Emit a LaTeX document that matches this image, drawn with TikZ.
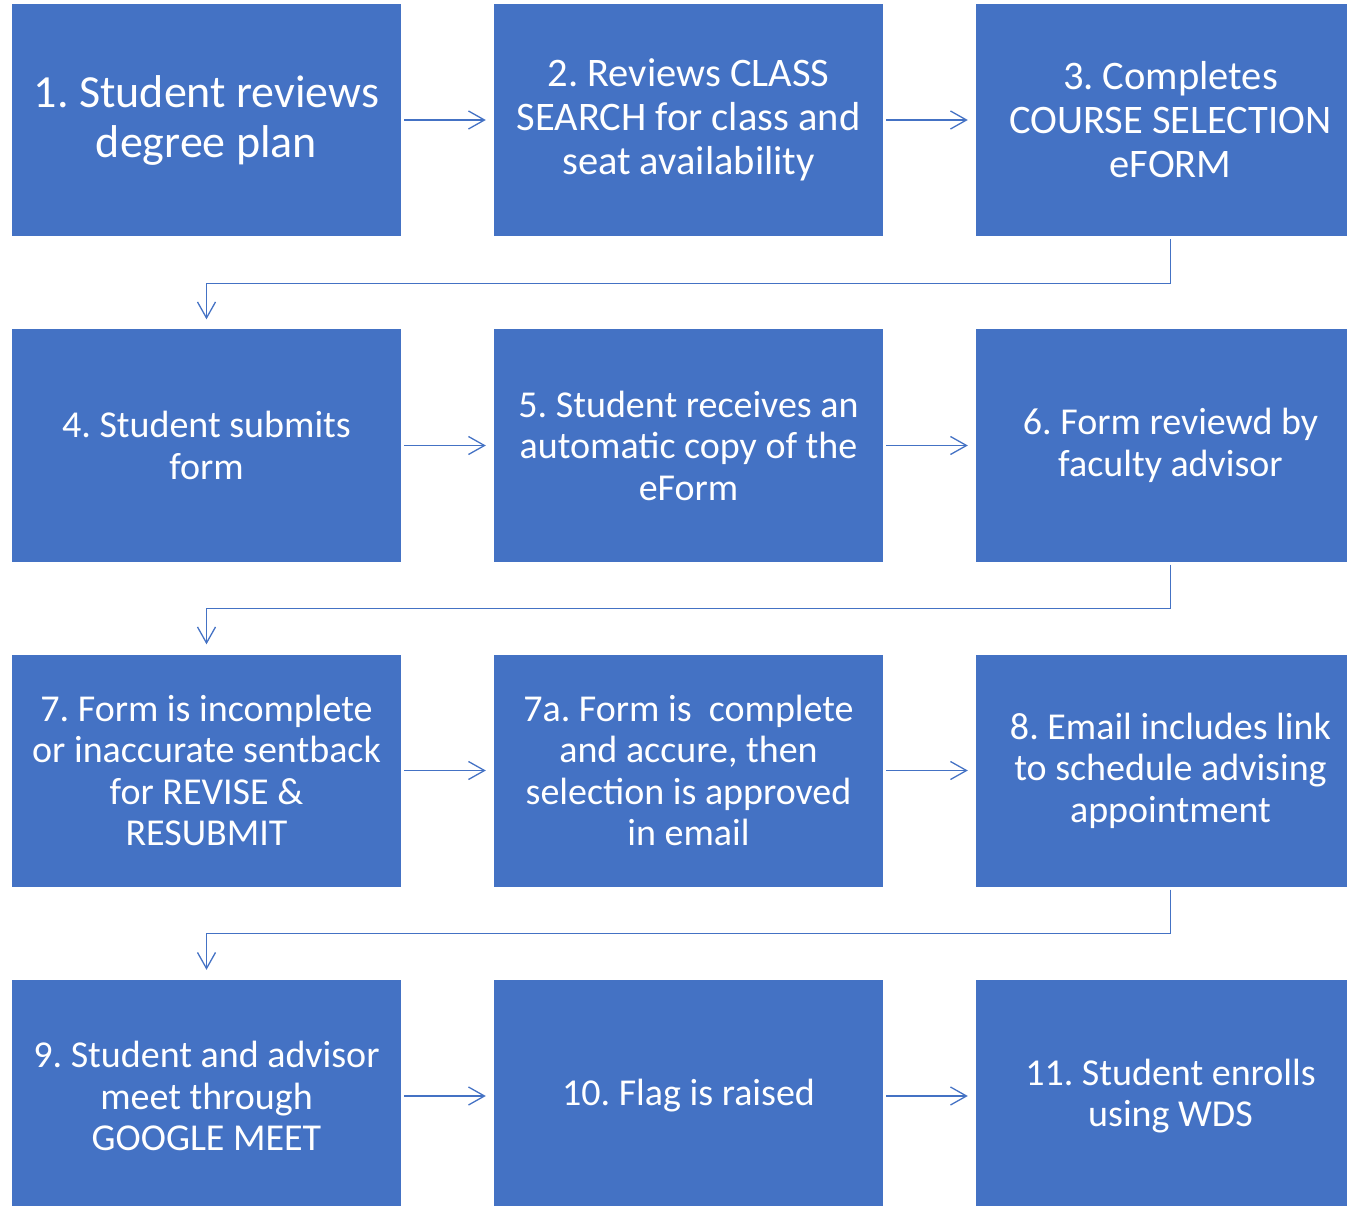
\documentclass[tikz,border=0pt]{standalone}
\usepackage{fontspec}
\setmainfont{Carlito}
\usepackage{tikz}
\usetikzlibrary{arrows.meta,calc}
\definecolor{officeblue}{HTML}{4472C4}
\frenchspacing

\begin{document}
\begin{tikzpicture}[x=1pt,y=-1pt,
stage/.style={rectangle,fill=officeblue,text=white,minimum width=389pt,minimum height=232pt,inner sep=0pt,align=center,font=\fontsize{38}{41.5}\selectfont},
edge/.style={-{Straight Barb[length=16pt,width=18pt,line width=1.3pt]},officeblue,line width=1.3pt,shorten <=3pt,shorten >=8pt},
turn/.style={edge,shorten >=10pt}]

\useasboundingbox (0,0) rectangle (1347,1206);

\node (S1) at (206.5,120) [stage,font=\fontsize{46}{50}\selectfont] {1. Student reviews\\degree plan};
\node (S2) at (688.5,120) [stage,font=\fontsize{40.5}{44}\selectfont] {2. Reviews CLASS\\SEARCH for class and\\seat availability};
\node (S3) at (1170.5,120) [stage,font=\fontsize{40.5}{44}\selectfont] {3. Completes\\COURSE SELECTION\\eFORM};

\node (S4) at (206.5,445.5) [stage] {4. Student submits\\form};
\node (S5) at (688.5,445.5) [stage] {5. Student receives an\\automatic copy of the\\eForm};
\node (S6) at (1170.5,445.5) [stage] {6. Form reviewd by\\faculty advisor};

\node (S7) at (206.5,770.5) [stage] {7. Form is incomplete\\or inaccurate sentback\\for REVISE \&\\RESUBMIT};
\node (S7a) at (688.5,770.5) [stage] {7a. Form is\ \ complete\\and accure, then\\selection is approved\\in email};
\node (S8) at (1170.5,770.5) [stage] {8. Email includes link\\to schedule advising\\appointment};

\node (S9) at (206.5,1096) [stage] {9. Student and advisor\\meet through\\GOOGLE MEET};
\node (S10) at (688.5,1096) [stage] {10. Flag is raised};
\node (S11) at (1170.5,1096) [stage] {11. Student enrolls\\using WDS};

% rows
\draw[edge] (S1) -- (S2);
\draw[edge] (S2) -- (S3);
\draw[edge] (S4) -- (S5);
\draw[edge] (S5) -- (S6);
\draw[edge] (S7) -- (S7a);
\draw[edge] (S7a) -- (S8);
\draw[edge] (S9) -- (S10);
\draw[edge] (S10) -- (S11);

% back to first column
\draw[turn] (S3.south) -- ++(0,47) -| (S4.north);
\draw[turn] (S6.south) -- ++(0,47) -| (S7.north);
\draw[turn] (S8.south) -- ++(0,47) -| (S9.north);

\end{tikzpicture}
\end{document}
